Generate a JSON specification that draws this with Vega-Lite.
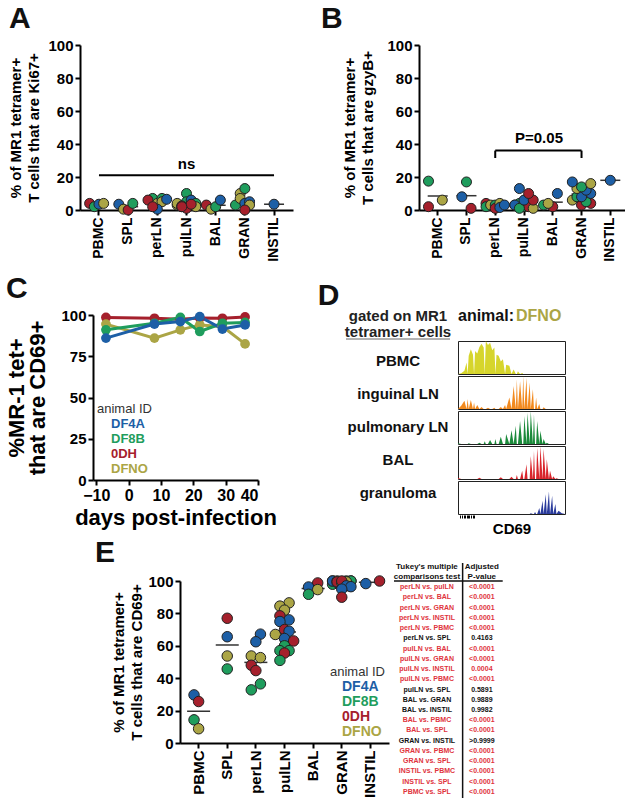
{
"$schema": "https://vega.github.io/schema/vega-lite/v6.json",
"background": "white",
"padding": {"left": 4, "top": 4, "right": 0, "bottom": 0},
"config": {
  "font": "Liberation Sans",
  "view": {"stroke": null},
  "axis": {"domainColor": "#000", "domainWidth": 2, "tickColor": "#000", "tickWidth": 2, "tickSize": 5, "labelColor": "#000", "labelFontWeight": "bold", "labelFontSize": 15, "titleColor": "#000", "titleFontWeight": "bold", "titleFontSize": 15, "grid": false, "labelPadding": 2},
  "title": {"fontSize": 30, "fontWeight": "bold", "anchor": "start", "color": "#111", "offset": 4}
},
"datasets": {
  "ki67": [
    {"g":"PBMC","id":"0DH","v":4,"r":"a"},{"g":"PBMC","id":"DF8B","v":2,"r":"b"},{"g":"PBMC","id":"DF4A","v":3.5,"r":"c"},{"g":"PBMC","id":"DFNO","v":4,"r":"d"},
    {"g":"SPL","id":"DF4A","v":3.5,"r":"a"},{"g":"SPL","id":"DFNO","v":0.5,"r":"b"},{"g":"SPL","id":"0DH","v":0,"r":"c"},{"g":"SPL","id":"DF8B","v":4,"r":"d"},
    {"g":"perLN","id":"DF8B","v":7,"r":"b"},{"g":"perLN","id":"0DH","v":6,"r":"a"},{"g":"perLN","id":"DFNO","v":4,"r":"c"},{"g":"perLN","id":"DF8B","v":7,"r":"d"},{"g":"perLN","id":"DFNO","v":5,"r":"d"},{"g":"perLN","id":"DF4A","v":6.5,"r":"e"},{"g":"perLN","id":"DF4A","v":0.5,"r":"c"},{"g":"perLN","id":"0DH","v":2,"r":"b"},
    {"g":"pulLN","id":"DFNO","v":3,"r":"a"},{"g":"pulLN","id":"DFNO","v":4,"r":"a"},{"g":"pulLN","id":"DF4A","v":2,"r":"b"},{"g":"pulLN","id":"DF8B","v":10,"r":"c"},{"g":"pulLN","id":"DF8B","v":5,"r":"c"},{"g":"pulLN","id":"DF4A","v":6,"r":"d"},{"g":"pulLN","id":"DF4A","v":3,"r":"d"},{"g":"pulLN","id":"DFNO","v":3,"r":"e"},{"g":"pulLN","id":"DF8B","v":4,"r":"e"},{"g":"pulLN","id":"DFNO","v":2,"r":"e"},{"g":"pulLN","id":"0DH","v":2.5,"r":"b"},{"g":"pulLN","id":"0DH","v":1,"r":"c"},{"g":"pulLN","id":"0DH","v":3.5,"r":"d"},{"g":"pulLN","id":"0DH","v":2,"r":"b"},
    {"g":"BAL","id":"0DH","v":3,"r":"a"},{"g":"BAL","id":"DFNO","v":0.5,"r":"b"},{"g":"BAL","id":"DF8B","v":2,"r":"c"},{"g":"BAL","id":"DF4A","v":6,"r":"d"},
    {"g":"GRAN","id":"DF8B","v":3,"r":"a"},{"g":"GRAN","id":"DFNO","v":10,"r":"b"},{"g":"GRAN","id":"DFNO","v":7,"r":"b"},{"g":"GRAN","id":"DF8B","v":13,"r":"c"},{"g":"GRAN","id":"DF4A","v":4,"r":"c"},{"g":"GRAN","id":"DF4A","v":5,"r":"d"},{"g":"GRAN","id":"DFNO","v":3,"r":"d"},{"g":"GRAN","id":"0DH","v":0,"r":"c"},
    {"g":"INSTIL","id":"DF4A","v":3.5,"r":"c"}
  ],
  "gzyb": [
    {"g":"PBMC","id":"DF8B","v":17.5,"r":"a"},{"g":"PBMC","id":"0DH","v":2,"r":"a"},{"g":"PBMC","id":"DFNO","v":6,"r":"d"},
    {"g":"SPL","id":"DF8B","v":17,"r":"c"},{"g":"SPL","id":"DF4A","v":8,"r":"b"},{"g":"SPL","id":"0DH","v":1,"r":"d"},
    {"g":"perLN","id":"0DH","v":4,"r":"a"},{"g":"perLN","id":"DF8B","v":2,"r":"a"},{"g":"perLN","id":"DFNO","v":3,"r":"b"},{"g":"perLN","id":"DF8B","v":3,"r":"c"},{"g":"perLN","id":"0DH","v":1,"r":"c"},{"g":"perLN","id":"DFNO","v":4,"r":"d"},{"g":"perLN","id":"DF4A","v":1.5,"r":"d"},{"g":"perLN","id":"DF4A","v":3,"r":"e"},
    {"g":"pulLN","id":"DFNO","v":3,"r":"a"},{"g":"pulLN","id":"DF8B","v":2,"r":"c"},{"g":"pulLN","id":"DFNO","v":5,"r":"d"},{"g":"pulLN","id":"DF8B","v":4,"r":"b"},{"g":"pulLN","id":"0DH","v":2,"r":"d"},{"g":"pulLN","id":"DF4A","v":3,"r":"a"},{"g":"pulLN","id":"DFNO","v":1,"r":"e"},{"g":"pulLN","id":"DF8B","v":1,"r":"b"},{"g":"pulLN","id":"DF4A","v":6,"r":"c"},{"g":"pulLN","id":"0DH","v":6,"r":"e"},{"g":"pulLN","id":"DF4A","v":13,"r":"b"},{"g":"pulLN","id":"0DH","v":10,"r":"d"},
    {"g":"BAL","id":"DF8B","v":3,"r":"a"},{"g":"BAL","id":"0DH","v":2,"r":"c"},{"g":"BAL","id":"DFNO","v":4,"r":"b"},{"g":"BAL","id":"DF4A","v":10,"r":"d"},
    {"g":"GRAN","id":"0DH","v":3,"r":"c"},{"g":"GRAN","id":"0DH","v":4,"r":"e"},{"g":"GRAN","id":"DF8B","v":5,"r":"d"},{"g":"GRAN","id":"DFNO","v":6,"r":"a"},{"g":"GRAN","id":"DF8B","v":8,"r":"b"},{"g":"GRAN","id":"DF4A","v":8,"r":"c"},{"g":"GRAN","id":"DF4A","v":10,"r":"e"},{"g":"GRAN","id":"DF4A","v":12,"r":"d"},{"g":"GRAN","id":"DFNO","v":13,"r":"b"},{"g":"GRAN","id":"DF8B","v":14,"r":"c"},{"g":"GRAN","id":"DFNO","v":16,"r":"e"},{"g":"GRAN","id":"DF4A","v":17,"r":"a"},
    {"g":"INSTIL","id":"DF4A","v":18,"r":"c"}
  ],
  "cd69": [
    {"g":"PBMC","id":"DF4A","v":29.7,"r":"b"},{"g":"PBMC","id":"0DH","v":25.6,"r":"c"},{"g":"PBMC","id":"DF8B","v":14.3,"r":"b"},{"g":"PBMC","id":"DFNO","v":8.8,"r":"c"},
    {"g":"SPL","id":"0DH","v":77,"r":"c"},{"g":"SPL","id":"DF4A","v":65.6,"r":"c"},{"g":"SPL","id":"DFNO","v":53.7,"r":"c"},{"g":"SPL","id":"DF8B","v":45.7,"r":"c"},
    {"g":"perLN","id":"DF4A","v":67.2,"r":"d"},{"g":"perLN","id":"DF4A","v":62.5,"r":"c"},{"g":"perLN","id":"DFNO","v":53.7,"r":"b"},{"g":"perLN","id":"DFNO","v":52.7,"r":"d"},{"g":"perLN","id":"0DH","v":48,"r":"b"},{"g":"perLN","id":"0DH","v":44.7,"r":"c"},{"g":"perLN","id":"DF8B","v":36.5,"r":"d"},{"g":"perLN","id":"DF8B","v":32.8,"r":"b"},
    {"g":"pulLN","id":"DFNO","v":86.5,"r":"d"},{"g":"pulLN","id":"DFNO","v":84.5,"r":"b"},{"g":"pulLN","id":"DFNO","v":82,"r":"c"},{"g":"pulLN","id":"0DH","v":78.5,"r":"b"},{"g":"pulLN","id":"DF4A","v":76,"r":"d"},{"g":"pulLN","id":"DF4A","v":75,"r":"b"},{"g":"pulLN","id":"DFNO","v":67,"r":"a"},{"g":"pulLN","id":"0DH","v":70,"r":"c"},{"g":"pulLN","id":"DF4A","v":69,"r":"d"},{"g":"pulLN","id":"DF4A","v":64.5,"r":"c"},{"g":"pulLN","id":"0DH","v":63,"r":"e"},{"g":"pulLN","id":"DF8B","v":60,"r":"c"},{"g":"pulLN","id":"DF8B","v":57,"r":"b"},{"g":"pulLN","id":"DF8B","v":57,"r":"d"},{"g":"pulLN","id":"0DH","v":55.5,"r":"c"},{"g":"pulLN","id":"DF8B","v":51,"r":"b"},
    {"g":"BAL","id":"0DH","v":98.8,"r":"d"},{"g":"BAL","id":"DF4A","v":96.3,"r":"b"},{"g":"BAL","id":"DFNO","v":94.7,"r":"d"},{"g":"BAL","id":"DF8B","v":91.8,"r":"b"},
    {"g":"GRAN","id":"DF8B","v":98,"r":"a"},{"g":"GRAN","id":"DFNO","v":100,"r":"a"},{"g":"GRAN","id":"DF4A","v":100,"r":"a"},{"g":"GRAN","id":"DFNO","v":100,"r":"b"},{"g":"GRAN","id":"DF8B","v":100,"r":"d"},{"g":"GRAN","id":"DFNO","v":100,"r":"e"},{"g":"GRAN","id":"DF8B","v":100,"r":"e"},{"g":"GRAN","id":"DF4A","v":99,"r":"b"},{"g":"GRAN","id":"0DH","v":99.5,"r":"b"},{"g":"GRAN","id":"DFNO","v":99.5,"r":"d"},{"g":"GRAN","id":"DF8B","v":99,"r":"c"},{"g":"GRAN","id":"0DH","v":100,"r":"c"},{"g":"GRAN","id":"DF4A","v":97,"r":"d"},{"g":"GRAN","id":"DF4A","v":96.5,"r":"e"},{"g":"GRAN","id":"DF4A","v":95,"r":"c"},{"g":"GRAN","id":"0DH","v":90,"r":"c"},
    {"g":"INSTIL","id":"DF4A","v":98.4,"r":"b"},{"g":"INSTIL","id":"0DH","v":100,"r":"e"}
  ],
  "timecourse": [
    {"id":"0DH","day":-7,"v":98.5},{"id":"0DH","day":8,"v":98},{"id":"0DH","day":16,"v":97.5},{"id":"0DH","day":22,"v":98.2},{"id":"0DH","day":29,"v":98},{"id":"0DH","day":36,"v":98.8},
    {"id":"DFNO","day":-7,"v":94.5},{"id":"DFNO","day":8,"v":86},{"id":"DFNO","day":16,"v":91},{"id":"DFNO","day":22,"v":94},{"id":"DFNO","day":29,"v":93},{"id":"DFNO","day":36,"v":82.5},
    {"id":"DF8B","day":-7,"v":91},{"id":"DF8B","day":8,"v":95},{"id":"DF8B","day":16,"v":98.5},{"id":"DF8B","day":22,"v":90},{"id":"DF8B","day":29,"v":95},{"id":"DF8B","day":36,"v":95.5},
    {"id":"DF4A","day":-7,"v":86},{"id":"DF4A","day":8,"v":94.5},{"id":"DF4A","day":16,"v":96},{"id":"DF4A","day":22,"v":99},{"id":"DF4A","day":29,"v":91.5},{"id":"DF4A","day":36,"v":94}
  ],
  "hist": [
    {"s":"PBMC","x":0,"y":0},{"s":"PBMC","x":3,"y":2},{"s":"PBMC","x":6,"y":10},{"s":"PBMC","x":8,"y":35},{"s":"PBMC","x":10,"y":55},{"s":"PBMC","x":12,"y":75},{"s":"PBMC","x":14,"y":58},{"s":"PBMC","x":16,"y":70},{"s":"PBMC","x":18,"y":62},{"s":"PBMC","x":20,"y":82},{"s":"PBMC","x":22,"y":92},{"s":"PBMC","x":24,"y":80},{"s":"PBMC","x":26,"y":100},{"s":"PBMC","x":28,"y":88},{"s":"PBMC","x":30,"y":95},{"s":"PBMC","x":32,"y":72},{"s":"PBMC","x":34,"y":80},{"s":"PBMC","x":36,"y":58},{"s":"PBMC","x":38,"y":55},{"s":"PBMC","x":40,"y":38},{"s":"PBMC","x":42,"y":45},{"s":"PBMC","x":45,"y":28},{"s":"PBMC","x":48,"y":25},{"s":"PBMC","x":52,"y":14},{"s":"PBMC","x":56,"y":8},{"s":"PBMC","x":60,"y":3},{"s":"PBMC","x":65,"y":0},{"s":"PBMC","x":100,"y":0},
    {"s":"inguinal LN","x":0,"y":0},{"s":"inguinal LN","x":3,"y":10},{"s":"inguinal LN","x":6,"y":25},{"s":"inguinal LN","x":9,"y":30},{"s":"inguinal LN","x":12,"y":27},{"s":"inguinal LN","x":15,"y":20},{"s":"inguinal LN","x":18,"y":12},{"s":"inguinal LN","x":22,"y":6},{"s":"inguinal LN","x":28,"y":4},{"s":"inguinal LN","x":34,"y":4},{"s":"inguinal LN","x":40,"y":6},{"s":"inguinal LN","x":44,"y":12},{"s":"inguinal LN","x":48,"y":35},{"s":"inguinal LN","x":52,"y":70},{"s":"inguinal LN","x":55,"y":90},{"s":"inguinal LN","x":58,"y":84},{"s":"inguinal LN","x":61,"y":100},{"s":"inguinal LN","x":64,"y":95},{"s":"inguinal LN","x":67,"y":80},{"s":"inguinal LN","x":70,"y":60},{"s":"inguinal LN","x":73,"y":35},{"s":"inguinal LN","x":76,"y":15},{"s":"inguinal LN","x":80,"y":5},{"s":"inguinal LN","x":85,"y":0},{"s":"inguinal LN","x":100,"y":0},
    {"s":"pulmonary LN","x":0,"y":2},{"s":"pulmonary LN","x":10,"y":2},{"s":"pulmonary LN","x":20,"y":4},{"s":"pulmonary LN","x":25,"y":8},{"s":"pulmonary LN","x":30,"y":12},{"s":"pulmonary LN","x":35,"y":15},{"s":"pulmonary LN","x":40,"y":22},{"s":"pulmonary LN","x":45,"y":30},{"s":"pulmonary LN","x":50,"y":42},{"s":"pulmonary LN","x":54,"y":55},{"s":"pulmonary LN","x":58,"y":70},{"s":"pulmonary LN","x":62,"y":85},{"s":"pulmonary LN","x":65,"y":95},{"s":"pulmonary LN","x":68,"y":100},{"s":"pulmonary LN","x":71,"y":90},{"s":"pulmonary LN","x":74,"y":70},{"s":"pulmonary LN","x":77,"y":40},{"s":"pulmonary LN","x":80,"y":15},{"s":"pulmonary LN","x":83,"y":4},{"s":"pulmonary LN","x":88,"y":0},{"s":"pulmonary LN","x":100,"y":0},
    {"s":"BAL","x":0,"y":3},{"s":"BAL","x":20,"y":4},{"s":"BAL","x":40,"y":5},{"s":"BAL","x":50,"y":7},{"s":"BAL","x":55,"y":12},{"s":"BAL","x":60,"y":25},{"s":"BAL","x":64,"y":45},{"s":"BAL","x":68,"y":70},{"s":"BAL","x":71,"y":85},{"s":"BAL","x":74,"y":95},{"s":"BAL","x":77,"y":100},{"s":"BAL","x":80,"y":92},{"s":"BAL","x":83,"y":60},{"s":"BAL","x":86,"y":25},{"s":"BAL","x":89,"y":8},{"s":"BAL","x":92,"y":2},{"s":"BAL","x":100,"y":0},
    {"s":"granuloma","x":0,"y":0},{"s":"granuloma","x":60,"y":0},{"s":"granuloma","x":68,"y":2},{"s":"granuloma","x":72,"y":6},{"s":"granuloma","x":76,"y":18},{"s":"granuloma","x":79,"y":40},{"s":"granuloma","x":82,"y":60},{"s":"granuloma","x":85,"y":68},{"s":"granuloma","x":88,"y":55},{"s":"granuloma","x":91,"y":30},{"s":"granuloma","x":94,"y":10},{"s":"granuloma","x":97,"y":2},{"s":"granuloma","x":100,"y":0}
  ],
  "tukey": [
    {"n":1,"c":"perLN vs. pulLN","p":"<0.0001","s":"y"},
    {"n":2,"c":"perLN vs. BAL","p":"<0.0001","s":"y"},
    {"n":3,"c":"perLN vs. GRAN","p":"<0.0001","s":"y"},
    {"n":4,"c":"perLN vs. INSTIL","p":"<0.0001","s":"y"},
    {"n":5,"c":"perLN vs. PBMC","p":"<0.0001","s":"y"},
    {"n":6,"c":"perLN vs. SPL","p":"0.4163","s":"n"},
    {"n":7,"c":"pulLN vs. BAL","p":"<0.0001","s":"y"},
    {"n":8,"c":"pulLN vs. GRAN","p":"<0.0001","s":"y"},
    {"n":9,"c":"pulLN vs. INSTIL","p":"0.0004","s":"y"},
    {"n":10,"c":"pulLN vs. PBMC","p":"<0.0001","s":"y"},
    {"n":11,"c":"pulLN vs. SPL","p":"0.5891","s":"n"},
    {"n":12,"c":"BAL vs. GRAN","p":"0.9889","s":"n"},
    {"n":13,"c":"BAL vs. INSTIL","p":"0.9982","s":"n"},
    {"n":14,"c":"BAL vs. PBMC","p":"<0.0001","s":"y"},
    {"n":15,"c":"BAL vs. SPL","p":"<0.0001","s":"y"},
    {"n":16,"c":"GRAN vs. INSTIL","p":">0.9999","s":"n"},
    {"n":17,"c":"GRAN vs. PBMC","p":"<0.0001","s":"y"},
    {"n":18,"c":"GRAN vs. SPL","p":"<0.0001","s":"y"},
    {"n":19,"c":"INSTIL vs. PBMC","p":"<0.0001","s":"y"},
    {"n":20,"c":"INSTIL vs. SPL","p":"<0.0001","s":"y"},
    {"n":21,"c":"PBMC vs. SPL","p":"<0.0001","s":"y"}
  ]
},
"resolve": {"scale": {"color": "independent", "xOffset": "independent"}, "legend": {"color": "independent"}},
"columns": 1,
"spacing": 12,
"concat": [
  {
    "columns": 2,
    "spacing": 0,
    "resolve": {"scale": {"color": "independent", "xOffset": "independent"}, "legend": {"color": "independent"}},
    "concat": [
      {"width": 4, "height": 1, "data": {"values": [{}]}, "mark": {"type": "point", "opacity": 0, "size": 1}, "encoding": {}},
      {
        "columns": 2,
        "spacing": 27,
        "resolve": {"scale": {"color": "independent", "xOffset": "independent"}, "legend": {"color": "independent"}},
        "concat": [
          {
            "title": {"text": "A"},
            "width": 213, "height": 165,
            "data": {"name": "ki67"},
            "layer": [
              {"mark": {"type": "tick", "color": "#333", "thickness": 1.5, "size": 20},
               "encoding": {
                 "x": {"field": "g", "type": "nominal", "scale": {"type": "band", "domain": ["PBMC","SPL","perLN","pulLN","BAL","GRAN","INSTIL"], "paddingInner": 0.2, "paddingOuter": 0.25}, "axis": {"title": null, "labelAngle": -90, "labelFontSize": 14}},
                 "y": {"aggregate": "mean", "field": "v", "type": "quantitative", "scale": {"domain": [0, 100], "nice": false}, "axis": {"values": [0,20,40,60,80,100], "title": ["% of MR1 tetramer+", "T cells that are Ki67+"], "titleLineHeight": 18, "titlePadding": 6}}
               }},
              {"mark": {"type": "circle", "size": 100, "opacity": 1, "stroke": "#222", "strokeWidth": 1},
               "encoding": {
                 "x": {"field": "g", "type": "nominal", "scale": {"type": "band", "domain": ["PBMC","SPL","perLN","pulLN","BAL","GRAN","INSTIL"], "paddingInner": 0.2, "paddingOuter": 0.25}, "axis": {"title": null, "labelAngle": -90, "labelFontSize": 14}},
                 "xOffset": {"field": "r", "type": "nominal", "scale": {"domain": ["a","b","c","d","e"]}},
                 "y": {"field": "v", "type": "quantitative", "axis": {"values": [0,20,40,60,80,100], "title": ["% of MR1 tetramer+", "T cells that are Ki67+"], "titleLineHeight": 18, "titlePadding": 6}},
                 "color": {"field": "id", "type": "nominal", "scale": {"domain": ["DF4A","DF8B","0DH","DFNO"], "range": ["#1d5fa6","#1f9d5d","#a5202c","#aba545"]}, "legend": null}
               }},
              {"data": {"values": [{"a": "PBMC", "b": "INSTIL", "v": 21}]},
               "mark": {"type": "rule", "strokeWidth": 2, "color": "#000"},
               "encoding": {
                 "x": {"field": "a", "type": "nominal", "axis": {"title": null, "labelAngle": -90, "labelFontSize": 14}},
                 "x2": {"field": "b"},
                 "y": {"field": "v", "type": "quantitative", "axis": {"values": [0,20,40,60,80,100], "title": ["% of MR1 tetramer+", "T cells that are Ki67+"], "titleLineHeight": 18, "titlePadding": 6}}
               }},
              {"data": {"values": [{"a": "pulLN", "v": 23, "t": "ns"}]},
               "mark": {"type": "text", "fontSize": 15, "fontWeight": "bold", "baseline": "bottom", "color": "#000"},
               "encoding": {
                 "x": {"field": "a", "type": "nominal", "axis": {"title": null, "labelAngle": -90, "labelFontSize": 14}},
                 "y": {"field": "v", "type": "quantitative", "axis": {"values": [0,20,40,60,80,100], "title": ["% of MR1 tetramer+", "T cells that are Ki67+"], "titleLineHeight": 18, "titlePadding": 6}},
                 "text": {"field": "t"}
               }}
            ]
          },
          {
            "title": {"text": "B", "dx": -22},
            "width": 210, "height": 165,
            "data": {"name": "gzyb"},
            "layer": [
              {"mark": {"type": "tick", "color": "#333", "thickness": 1.5, "size": 20},
               "encoding": {
                 "x": {"field": "g", "type": "nominal", "scale": {"type": "band", "domain": ["PBMC","SPL","perLN","pulLN","BAL","GRAN","INSTIL"], "paddingInner": 0.2, "paddingOuter": 0.25}, "axis": {"title": null, "labelAngle": -90, "labelFontSize": 14}},
                 "y": {"aggregate": "mean", "field": "v", "type": "quantitative", "scale": {"domain": [0, 100], "nice": false}, "axis": {"values": [0,20,40,60,80,100], "title": ["% of MR1 tetramer+", "T cells that are gzyB+"], "titleLineHeight": 18, "titlePadding": 11}}
               }},
              {"mark": {"type": "circle", "size": 100, "opacity": 1, "stroke": "#222", "strokeWidth": 1},
               "encoding": {
                 "x": {"field": "g", "type": "nominal", "scale": {"type": "band", "domain": ["PBMC","SPL","perLN","pulLN","BAL","GRAN","INSTIL"], "paddingInner": 0.2, "paddingOuter": 0.25}, "axis": {"title": null, "labelAngle": -90, "labelFontSize": 14}},
                 "xOffset": {"field": "r", "type": "nominal", "scale": {"domain": ["a","b","c","d","e"]}},
                 "y": {"field": "v", "type": "quantitative", "axis": {"values": [0,20,40,60,80,100], "title": ["% of MR1 tetramer+", "T cells that are gzyB+"], "titleLineHeight": 18, "titlePadding": 11}},
                 "color": {"field": "id", "type": "nominal", "scale": {"domain": ["DF4A","DF8B","0DH","DFNO"], "range": ["#1d5fa6","#1f9d5d","#a5202c","#aba545"]}, "legend": null}
               }},
              {"data": {"values": [{"a": "perLN", "b": "GRAN", "v": 36}]},
               "mark": {"type": "rule", "strokeWidth": 2, "color": "#000"},
               "encoding": {
                 "x": {"field": "a", "type": "nominal", "axis": {"title": null, "labelAngle": -90, "labelFontSize": 14}},
                 "x2": {"field": "b"},
                 "y": {"field": "v", "type": "quantitative", "axis": {"values": [0,20,40,60,80,100], "title": ["% of MR1 tetramer+", "T cells that are gzyB+"], "titleLineHeight": 18, "titlePadding": 11}}
               }},
              {"data": {"values": [{"a": "perLN", "v": 36, "v2": 31.5}, {"a": "GRAN", "v": 36, "v2": 31.5}]},
               "mark": {"type": "rule", "strokeWidth": 2, "color": "#000"},
               "encoding": {
                 "x": {"field": "a", "type": "nominal", "axis": {"title": null, "labelAngle": -90, "labelFontSize": 14}},
                 "y": {"field": "v", "type": "quantitative", "axis": {"values": [0,20,40,60,80,100], "title": ["% of MR1 tetramer+", "T cells that are gzyB+"], "titleLineHeight": 18, "titlePadding": 11}},
                 "y2": {"field": "v2"}
               }},
              {"data": {"values": [{"a": "pulLN", "v": 38.5, "t": "P=0.05"}]},
               "mark": {"type": "text", "fontSize": 15, "fontWeight": "bold", "baseline": "bottom", "color": "#000", "dx": 15},
               "encoding": {
                 "x": {"field": "a", "type": "nominal", "axis": {"title": null, "labelAngle": -90, "labelFontSize": 14}},
                 "y": {"field": "v", "type": "quantitative", "axis": {"values": [0,20,40,60,80,100], "title": ["% of MR1 tetramer+", "T cells that are gzyB+"], "titleLineHeight": 18, "titlePadding": 11}},
                 "text": {"field": "t"}
               }}
            ]
          }
        ]
      }
    ]
  },
  {
    "columns": 1,
    "spacing": 0,
    "resolve": {"scale": {"color": "independent", "xOffset": "independent"}, "legend": {"color": "independent"}},
    "concat": [
      {
        "columns": 2,
        "spacing": 0,
        "resolve": {"scale": {"color": "independent", "xOffset": "independent"}, "legend": {"color": "independent"}},
        "concat": [
          {"width": 1, "height": 1, "data": {"values": [{}]}, "mark": {"type": "point", "opacity": 0, "size": 1}, "encoding": {}},
          {
            "columns": 2,
            "spacing": 40,
            "resolve": {"scale": {"color": "independent", "xOffset": "independent"}, "legend": {"color": "independent"}},
            "concat": [
              {
                "title": {"text": "C"},
                "width": 165, "height": 165,
                "data": {"name": "timecourse"},
                "encoding": {
                  "x": {"field": "day", "type": "quantitative", "scale": {"domain": [-11, 40], "nice": false, "zero": false}, "axis": {"values": [-10,0,10,20,30,40], "title": "days post-infection", "titleFontSize": 22, "labelFontSize": 16, "titlePadding": 4}},
                  "y": {"field": "v", "type": "quantitative", "scale": {"domain": [0, 100], "nice": false}, "axis": {"values": [0,25,50,75,100], "title": ["%MR-1 tet+", "that are CD69+"], "titleFontSize": 22, "titleLineHeight": 21, "titlePadding": 11}},
                  "color": {"field": "id", "type": "nominal", "scale": {"domain": ["DF4A","DF8B","0DH","DFNO"], "range": ["#1d5fa6","#1f9d5d","#a5202c","#aba545"]},
                    "legend": {"orient": "bottom-left", "offset": 4, "title": "animal ID", "titleFontSize": 13, "titleFontWeight": "normal", "titleColor": "#333", "titlePadding": 1, "labelFontSize": 13, "labelFontWeight": "bold", "symbolType": "circle", "symbolSize": 1, "symbolOpacity": 0, "symbolStrokeWidth": 0, "labelOffset": 1, "rowPadding": 1,
                      "labelColor": {"expr": "datum.value === 'DF4A' ? '#1d5fa6' : datum.value === 'DF8B' ? '#1f9d5d' : datum.value === '0DH' ? '#a5202c' : '#aba545'"}}}
                },
                "layer": [
                  {"mark": {"type": "line", "strokeWidth": 3}},
                  {"mark": {"type": "circle", "size": 95, "opacity": 1}}
                ]
              },
              {
                "title": {"text": "D", "dx": -27, "dy": 7},
                "columns": 1,
                "spacing": 0,
                "resolve": {"scale": {"color": "independent"}, "legend": {"color": "independent"}},
                "concat": [
                  {
                    "width": 225, "height": 24,
                    "data": {"values": [
                      {"t": "gated on MR1", "x": 52, "y": 18, "k": "g", "al": "c"},
                      {"t": "tetramer+ cells", "x": 52, "y": 2, "k": "g", "al": "c"},
                      {"t": "animal:", "x": 112, "y": 18, "k": "a", "al": "l"},
                      {"t": "DFNO", "x": 170, "y": 18, "k": "n", "al": "l"}
                    ]},
                    "layer": [
                      {"transform": [{"filter": "datum.al === 'c'"}],
                       "mark": {"type": "text", "align": "center", "baseline": "alphabetic", "fontSize": 15, "fontWeight": "bold"},
                       "encoding": {
                         "x": {"field": "x", "type": "quantitative", "scale": {"domain": [0, 225], "nice": false}, "axis": null},
                         "y": {"field": "y", "type": "quantitative", "scale": {"domain": [0, 24], "nice": false}, "axis": null},
                         "text": {"field": "t"},
                         "color": {"field": "k", "type": "nominal", "scale": {"domain": ["g","a","n"], "range": ["#222","#111","#aba545"]}, "legend": null}
                       }},
                      {"transform": [{"filter": "datum.al === 'l'"}],
                       "mark": {"type": "text", "align": "left", "baseline": "alphabetic", "fontSize": 16, "fontWeight": "bold"},
                       "encoding": {
                         "x": {"field": "x", "type": "quantitative", "axis": null},
                         "y": {"field": "y", "type": "quantitative", "axis": null},
                         "text": {"field": "t"},
                         "color": {"field": "k", "type": "nominal", "legend": null}
                       }},
                      {"data": {"values": [{"x": 0, "x2": 104, "y": 0}]},
                       "mark": {"type": "rule", "color": "#666", "strokeWidth": 1},
                       "encoding": {
                         "x": {"field": "x", "type": "quantitative", "axis": null},
                         "x2": {"field": "x2"},
                         "y": {"field": "y", "type": "quantitative", "axis": null}
                       }}
                    ]
                  },
                  {
                    "columns": 2,
                    "spacing": 7,
                    "resolve": {"scale": {"color": "independent"}, "legend": {"color": "independent"}},
                    "concat": [
                      {
                        "width": 104, "height": 165,
                        "data": {"values": [{"s": "PBMC"}, {"s": "inguinal LN"}, {"s": "pulmonary LN"}, {"s": "BAL"}, {"s": "granuloma"}]},
                        "mark": {"type": "text", "fontSize": 15, "fontWeight": "bold", "color": "#111", "baseline": "middle", "align": "center", "dy": 3},
                        "encoding": {
                          "y": {"field": "s", "type": "nominal", "sort": null, "scale": {"type": "band", "paddingInner": 0, "paddingOuter": 0}, "axis": null},
                          "text": {"field": "s"}
                        }
                      },
                      {
                        "data": {"name": "hist"},
                        "facet": {"row": {"field": "s", "type": "nominal", "sort": ["PBMC","inguinal LN","pulmonary LN","BAL","granuloma"], "header": {"labels": false, "title": null}}},
                        "spacing": {"row": 0},
                        "spec": {
                          "width": 107, "height": 33,
                          "view": {"stroke": "#222", "strokeWidth": 1},
                          "mark": {"type": "area", "strokeWidth": 1, "opacity": 1},
                          "encoding": {
                            "x": {"field": "x", "type": "quantitative", "scale": {"domain": [0, 100], "nice": false}, "axis": {"title": "CD69", "titleFontSize": 15, "labels": false, "domain": false, "tickSize": 3, "tickWidth": 1, "values": [2,4,6,7,8,9,10,12,14,15], "titlePadding": 3}},
                            "y": {"field": "y", "type": "quantitative", "scale": {"domain": [0, 100], "nice": false}, "axis": null},
                            "color": {"field": "s", "type": "nominal", "scale": {"domain": ["PBMC","inguinal LN","pulmonary LN","BAL","granuloma"], "range": ["#d6d52c","#f28a1f","#1b8a3b","#d9252b","#2a3b9c"]}, "legend": null}
                          }
                        }
                      }
                    ]
                  }
                ]
              }
            ]
          }
        ]
      },
      {
        "columns": 3,
        "spacing": 4,
        "resolve": {"scale": {"color": "independent", "xOffset": "independent"}, "legend": {"color": "independent"}},
        "concat": [
          {"width": 86, "height": 1, "data": {"values": [{}]}, "mark": {"type": "point", "opacity": 0, "size": 1}, "encoding": {}},
          {
            "title": {"text": "E", "dx": -17, "offset": 6},
            "width": 209, "height": 162,
            "data": {"name": "cd69"},
            "layer": [
              {"mark": {"type": "tick", "color": "#333", "thickness": 1.5, "size": 23},
               "encoding": {
                 "x": {"field": "g", "type": "nominal", "scale": {"type": "band", "domain": ["PBMC","SPL","perLN","pulLN","BAL","GRAN","INSTIL"], "paddingInner": 0.2, "paddingOuter": 0.25}, "axis": {"title": null, "labelAngle": -90, "labelFontSize": 15}},
                 "y": {"aggregate": "mean", "field": "v", "type": "quantitative", "scale": {"domain": [0, 100], "nice": false}, "axis": {"values": [0,20,40,60,80,100], "title": ["% of MR1 tetramer+", "T cells that are CD69+"], "titleLineHeight": 18, "titlePadding": 3}}
               }},
              {"mark": {"type": "circle", "size": 110, "opacity": 1, "stroke": "#222", "strokeWidth": 1},
               "encoding": {
                 "x": {"field": "g", "type": "nominal", "scale": {"type": "band", "domain": ["PBMC","SPL","perLN","pulLN","BAL","GRAN","INSTIL"], "paddingInner": 0.2, "paddingOuter": 0.25}, "axis": {"title": null, "labelAngle": -90, "labelFontSize": 15}},
                 "xOffset": {"field": "r", "type": "nominal", "scale": {"domain": ["a","b","c","d","e"]}},
                 "y": {"field": "v", "type": "quantitative", "axis": {"values": [0,20,40,60,80,100], "title": ["% of MR1 tetramer+", "T cells that are CD69+"], "titleLineHeight": 18, "titlePadding": 3}},
                 "color": {"field": "id", "type": "nominal", "scale": {"domain": ["DF4A","DF8B","0DH","DFNO"], "range": ["#1d5fa6","#1f9d5d","#a5202c","#aba545"]},
                   "legend": {"orient": "bottom-right", "offset": 4, "title": "animal ID", "titleFontSize": 13, "titleFontWeight": "normal", "titleColor": "#333", "titlePadding": 1, "labelFontSize": 14, "labelFontWeight": "bold", "symbolType": "circle", "symbolSize": 1, "symbolOpacity": 0, "symbolStrokeWidth": 0, "labelOffset": -2, "rowPadding": 1,
                     "labelColor": {"expr": "datum.value === 'DF4A' ? '#1d5fa6' : datum.value === 'DF8B' ? '#1f9d5d' : datum.value === '0DH' ? '#a5202c' : '#aba545'"}}}
               }}
            ]
          },
          {
            "width": 112, "height": 217,
            "layer": [
              {"data": {"name": "tukey"},
               "mark": {"type": "text", "fontSize": 7, "fontWeight": "bold", "baseline": "middle", "align": "center"},
               "encoding": {
                 "x": {"datum": 0, "type": "quantitative", "scale": {"domain": [-0.6, 1.44], "nice": false, "zero": false}, "axis": null},
                 "y": {"field": "n", "type": "quantitative", "scale": {"domain": [0.39, 21.6], "reverse": true, "nice": false, "zero": false}, "axis": null},
                 "text": {"field": "c"},
                 "color": {"field": "s", "type": "nominal", "scale": {"domain": ["n","y"], "range": ["#111","#e0333d"]}, "legend": null}
               }},
              {"data": {"name": "tukey"},
               "mark": {"type": "text", "fontSize": 7, "fontWeight": "bold", "baseline": "middle", "align": "center"},
               "encoding": {
                 "x": {"datum": 1, "type": "quantitative", "axis": null},
                 "y": {"field": "n", "type": "quantitative", "axis": null},
                 "text": {"field": "p"},
                 "color": {"field": "s", "type": "nominal", "scale": {"domain": ["n","y"], "range": ["#111","#e0333d"]}, "legend": null}
               }},
              {"data": {"values": [
                  {"t": "Tukey's multiple", "col": 0, "n": -0.95},
                  {"t": "comparisons test", "col": 0, "n": -0.03},
                  {"t": "Adjusted", "col": 1, "n": -0.95},
                  {"t": "P-value", "col": 1, "n": -0.03}]},
               "mark": {"type": "text", "fontSize": 8, "fontWeight": "bold", "baseline": "middle", "align": "center", "color": "#111"},
               "encoding": {
                 "x": {"field": "col", "type": "quantitative", "axis": null},
                 "y": {"field": "n", "type": "quantitative", "axis": null},
                 "text": {"field": "t"}
               }},
              {"data": {"values": [
                  {"col": 0.65, "col2": 0.65, "n": -1.37, "n2": 21.6},
                  {"col": -0.6, "col2": 1.38, "n": 0.39, "n2": 0.39}]},
               "mark": {"type": "rule", "strokeWidth": 1.5, "color": "#111"},
               "encoding": {
                 "x": {"field": "col", "type": "quantitative", "axis": null},
                 "x2": {"field": "col2"},
                 "y": {"field": "n", "type": "quantitative", "axis": null},
                 "y2": {"field": "n2"}
               }}
            ]
          }
        ]
      }
    ]
  }
]
}
